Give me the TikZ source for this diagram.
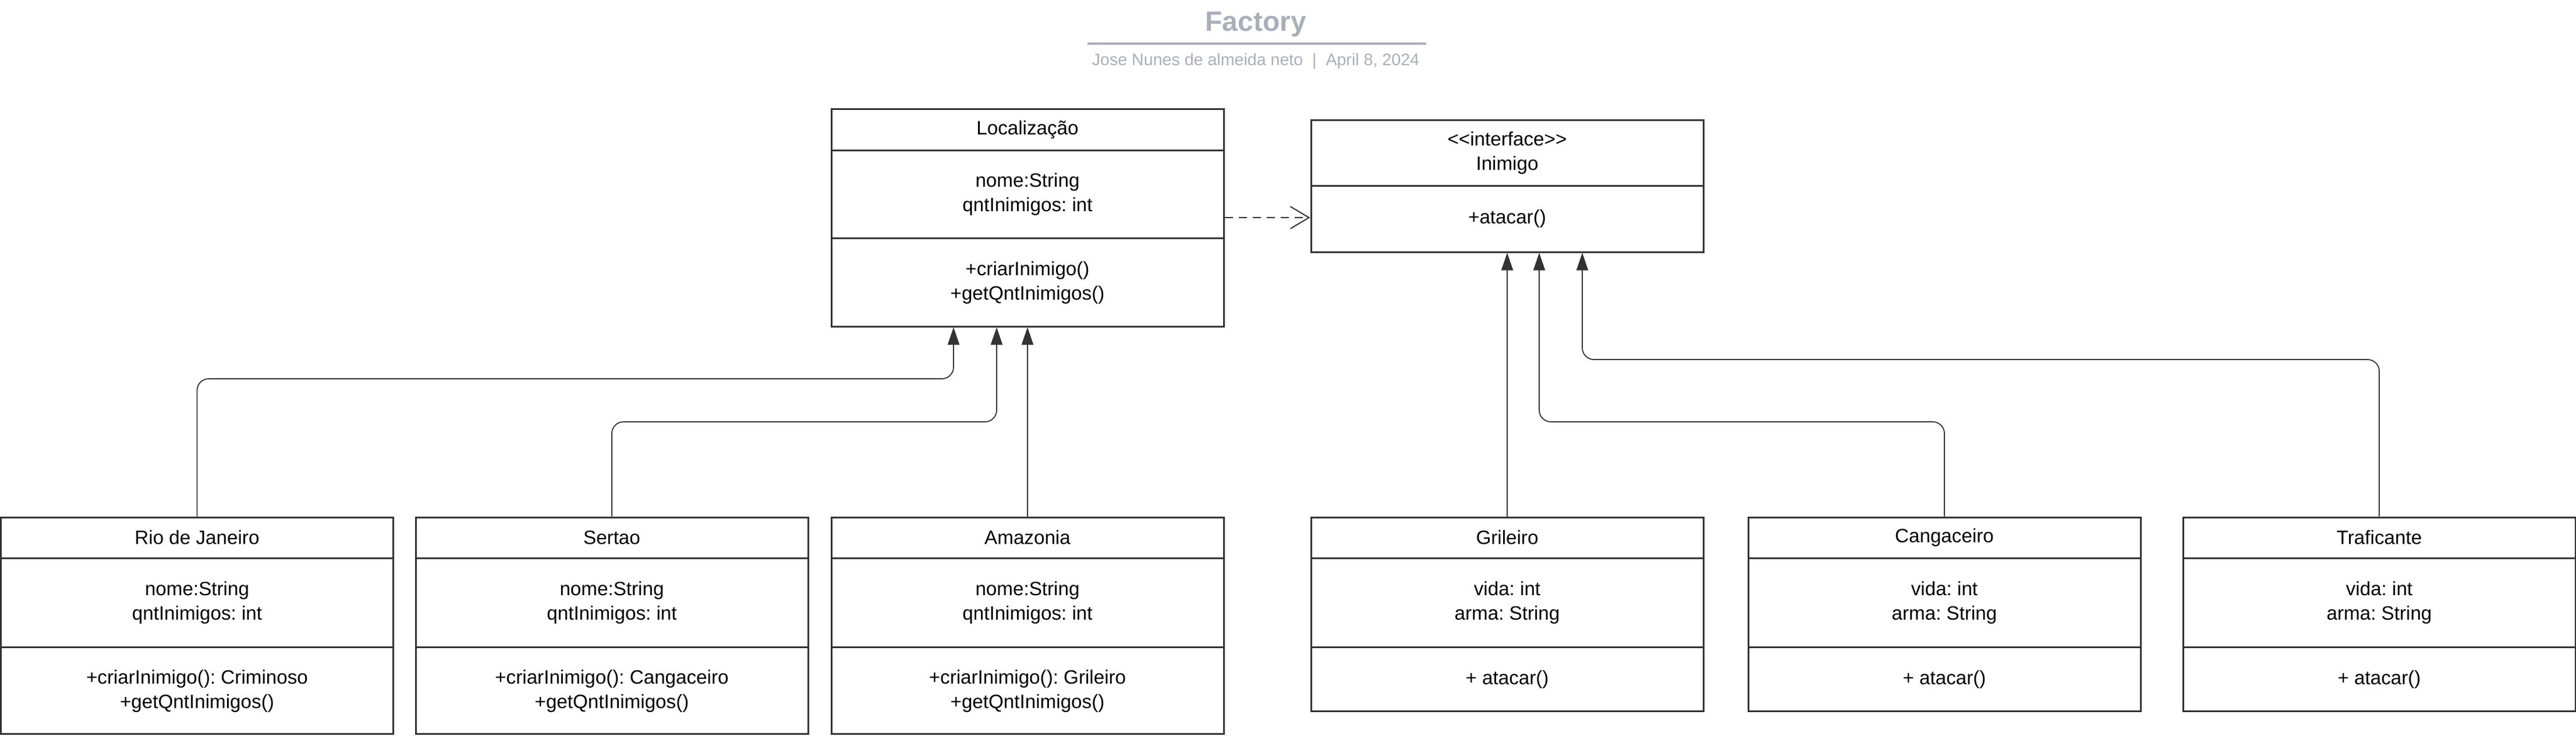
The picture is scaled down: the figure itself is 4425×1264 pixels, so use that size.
\documentclass[tikz,border=0pt]{standalone}
\usepackage{fontspec}
\setmainfont{Liberation Sans}
\usetikzlibrary{arrows.meta,fit}
\definecolor{linec}{HTML}{333333}
\definecolor{titlec}{HTML}{A9AFB8}
\tikzset{
  boxline/.style={draw=linec, line width=1.5pt},
  classbox/.style={boxline, inner sep=0pt},
  classtext/.style={align=center, font=\fontsize{16.6}{21}\selectfont, inner sep=0pt},
  inh/.style={draw=linec, line width=0.9pt, rounded corners=10pt, -{Triangle[length=15pt,width=10pt]}},
  dep/.style={draw=linec, line width=1pt, dash pattern=on 7pt off 5pt, -{Straight Barb[length=16pt,width=19pt]}},
}
\newcommand{\umlcls}[9]{%
  \coordinate (#1-nw) at (#2,#3);
  \coordinate (#1-se) at ({#2+674},#6);
  \node[classbox, fit=(#1-nw)(#1-se)] (#1) {};
  \draw[boxline] (#2,#4) -- ({#2+674},#4);
  \draw[boxline] (#2,#5) -- ({#2+674},#5);
  \node[classtext] (#1-h) at ({#2+337},{(#3+#4)/2}) {#7};
  \node[classtext] (#1-a) at ({#2+337},{(#4+#5)/2}) {#8};
  \node[classtext] (#1-m) at ({#2+337},{(#5+#6)/2+1}) {#9};
}
\frenchspacing
\begin{document}
\begin{tikzpicture}[x=0.5pt,y=-0.5pt]
\useasboundingbox (0,0) rectangle (4425,1264);
% title
\node[font=\fontsize{24}{28}\selectfont\bfseries, text=titlec, anchor=base, inner sep=0pt] (title) at (2157,53) {Factory};
\coordinate (tl) at (1868,75);
\coordinate (tr) at (2450,75);
\draw[draw=titlec, line width=1.75pt] (tl) -- (tr);
\node[font=\fontsize{14.3}{16}\selectfont, text=titlec, anchor=base, inner sep=0pt] (sub) at (2157,112) {Jose Nunes de almeida neto \ | \ April 8, 2024};
% classes
\umlcls{loc}{1428}{187}{258}{409}{561}{Localização}{nome:String\\qntInimigos: int}{+criarInimigo()\\+getQntInimigos()}
\umlcls{rio}{1.5}{889}{959}{1112}{1261}{Rio de Janeiro}{nome:String\\qntInimigos: int}{+criarInimigo(): Criminoso\\+getQntInimigos()}
\umlcls{ser}{714}{889}{959}{1112}{1261}{Sertao}{nome:String\\qntInimigos: int}{+criarInimigo(): Cangaceiro\\+getQntInimigos()}
\umlcls{ama}{1428}{889}{959}{1112}{1261}{Amazonia}{nome:String\\qntInimigos: int}{+criarInimigo(): Grileiro\\+getQntInimigos()}
\umlcls{gri}{2252}{889}{959}{1112}{1222}{Grileiro}{vida: int\\arma: String}{+ atacar()}
\umlcls{can}{3003}{889}{959}{1112}{1222}{Cangaceiro}{vida: int\\arma: String}{+ atacar()}
\umlcls{tra}{3750}{889}{959}{1112}{1222}{Traficante}{vida: int\\arma: String}{+ atacar()}
% interface
\coordinate (ini-nw) at (2252,206);
\coordinate (ini-se) at (2926,433);
\node[classbox, fit=(ini-nw)(ini-se)] (ini) {};
\draw[boxline] (2252,319) -- (2926,319);
\node[classtext] (ini-h) at (2589,262.5) {<\kern0pt<interface>\kern0pt>\\Inimigo};
\node[classtext] (ini-m) at (2589,376) {+atacar()};
% connectors
\coordinate (locIn1) at (1638,562.5);
\coordinate (rioK) at (1638,651);
\draw[inh] (rio.north) |- (rioK) -- (locIn1);
\coordinate (locIn2) at (1712,562.5);
\coordinate (serK) at (1712,725);
\draw[inh] (ser.north) |- (serK) -- (locIn2);
\draw[inh] (ama.north) -- (loc.south);
\draw[inh] (gri.north) -- (ini.south);
\coordinate (iniIn2) at (2644,434.5);
\coordinate (canK) at (2644,725);
\draw[inh] (can.north) |- (canK) -- (iniIn2);
\coordinate (iniIn3) at (2718,434.5);
\coordinate (traK) at (2718,618);
\draw[inh] (tra.north) |- (traK) -- (iniIn3);
\draw[dep] (loc.east) -- (loc.east -| ini.west);
\end{tikzpicture}
\end{document}
